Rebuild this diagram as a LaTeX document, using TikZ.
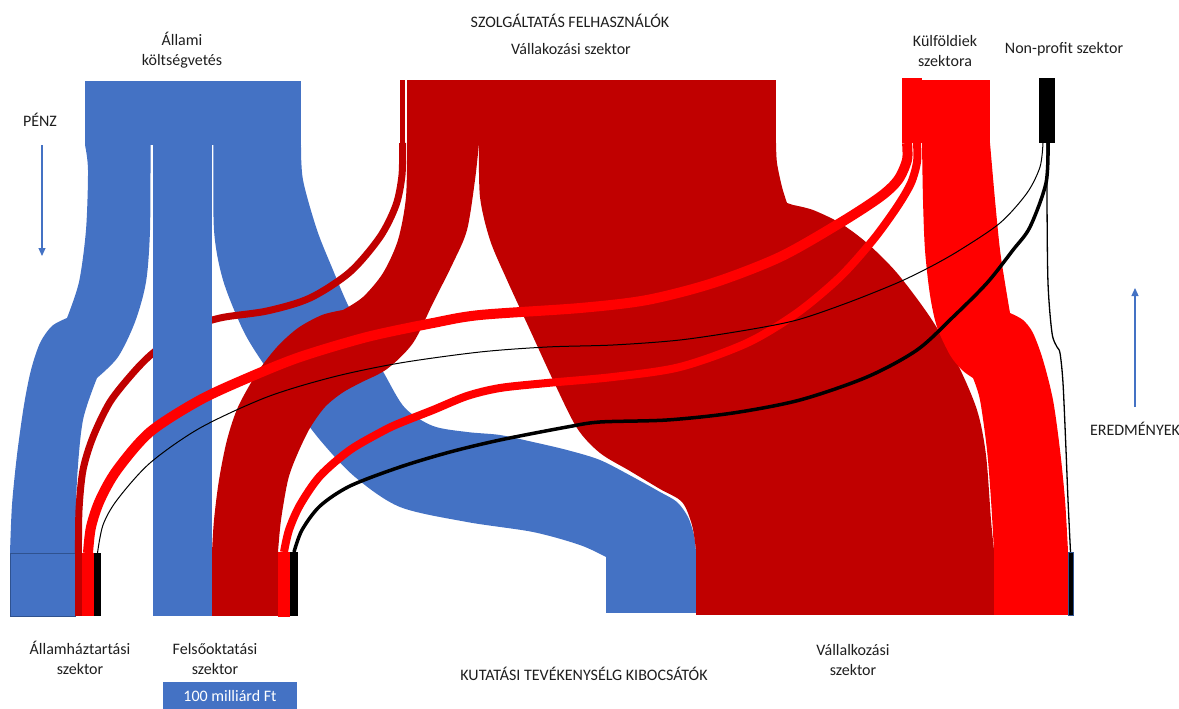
\documentclass[tikz,border=0pt]{standalone}
\usepackage{fontspec}
\setmainfont{Carlito}
\usetikzlibrary{arrows.meta,calc}
\pgfdeclarelayer{flows}
\pgfsetlayers{flows,main}
\definecolor{cblue}{HTML}{4472C4}
\definecolor{cdark}{HTML}{C00000}
\definecolor{cred}{HTML}{FF0000}
\definecolor{cedge}{HTML}{2F528F}
\definecolor{ctext}{HTML}{1E1E1E}
\begin{document}
\begin{tikzpicture}[x=1pt,y=-1pt,
  blk/.style={inner sep=0pt, outer sep=0pt, anchor=north west, draw=none},
  lbl/.style={font=\fontsize{16}{20.5}\selectfont, text=ctext, align=center, inner sep=0pt},
  dirarrow/.style={cblue, line width=1.2pt, -{Triangle[length=8pt,width=7pt]}}]
\useasboundingbox (0,0) rectangle (1179,709);

% ---------- source blocks (top) ----------
\node[blk, fill=cblue, minimum width=67pt, minimum height=64pt] (all1) at (85,81) {};
\node[blk, fill=cblue, minimum width=60pt, minimum height=64pt] (all2) at (152,81) {};
\node[blk, fill=cblue, minimum width=89pt, minimum height=64pt] (all3) at (212,81) {};
\node[blk, fill=cdark, minimum width=5pt, minimum height=63pt] (vts) at (400,80) {};
\node[blk, fill=cdark, minimum width=369pt, minimum height=63pt] (vt) at (407,80) {};
\node[blk, fill=cred, minimum width=20pt, minimum height=65pt] (kfs) at (902,78) {};
\node[blk, fill=cred, minimum width=68pt, minimum height=63pt] (kf) at (922,80) {};
\node[blk, fill=black, minimum width=16pt, minimum height=65pt] (np) at (1039,78) {};

% ---------- target blocks (bottom) ----------
\node[blk, fill=cblue, draw=cedge, line width=0.8pt, minimum width=65pt, minimum height=63pt] (ahb) at (10,553) {};
\node[blk, fill=cdark, minimum width=7pt, minimum height=63pt] (ahd) at (75,553) {};
\node[blk, fill=cred, minimum width=12pt, minimum height=63pt] (ahr) at (82,553) {};
\node[blk, fill=black, minimum width=7pt, minimum height=63pt] (ahk) at (94,553) {};

\node[blk, fill=cblue, minimum width=59pt, minimum height=64pt] (fob) at (153,552) {};
\node[blk, fill=cdark, minimum width=66pt, minimum height=64pt] (fod) at (212,552) {};
\node[blk, fill=cred, minimum width=12pt, minimum height=65pt] (for) at (278,552) {};
\node[blk, fill=black, minimum width=8pt, minimum height=64pt] (fok) at (290,552) {};

\node[blk, fill=cblue, minimum width=90pt, minimum height=56pt] (vab) at (606,557) {};
\node[blk, fill=cdark, minimum width=298pt, minimum height=65pt] (vad) at (696,550) {};
\node[blk, fill=cred, minimum width=74pt, minimum height=64pt] (var) at (994,551) {};
\node[blk, fill=black, draw=cedge, line width=0.6pt, minimum width=5pt, minimum height=63pt] (vak) at (1068,552) {};

% split points on the source blocks
\coordinate (vtsplit) at (479,143);
\coordinate (kf1) at (907,143);
\coordinate (kf2) at (917,143);
\coordinate (np1) at (1043,143);
\coordinate (np2) at (1048,143);
\coordinate (np3) at (1047,143);

% ---------- flows ----------
\begin{pgfonlayer}{flows}
% state budget -> public sector
\fill[cblue] plot[smooth] coordinates {(all1.south west) (88,170) (86,230) (79,282) (67,318)}
  -- plot[smooth] coordinates {(67,318) (52,326) (40,343) (31,370) (24,405) (17,455) (12,505) (ahb.north west)}
  -- (ahb.north east)
  -- plot[smooth] coordinates {(ahb.north east) (77,480) (83,420) (97,378)}
  -- plot[smooth] coordinates {(97,378) (118,357) (135,322) (146,282) (150,230) (150.5,145)} -- cycle;

% state budget -> business sector
\fill[cblue] plot[smooth] coordinates {(213.5,145) (214,230) (223,280) (243,330) (263,363) (290,400) (320,440) (355,477) (400,507) (467,522) (533,532) (580,545) (vab.north west)}
  -- (vab.north east)
  -- plot[smooth] coordinates {(696,552) (694,535) (688,517) (677,502) (660,492) (633,477) (600,460) (567,450) (533,442) (500,435) (467,432) (433,426) (405,408) (385,375) (365,338) (347,303) (333,270) (317,230) (303,180) (all3.south east)} -- cycle;

% business -> public sector (thin)
\draw[cdark, line width=7pt] plot[smooth] coordinates {(vts.south) (402,175) (396,205) (380,237) (350,272) (310,298) (267,311) (220,318) (185,330) (153,353) (133,373) (110,402) (93,437) (83,470) (79,510) (ahd.north)};

% state budget -> higher education
\fill[cblue] (152.5,145) rectangle (fob.north east);

% business -> higher education
\fill[cdark] plot[smooth] coordinates {(vt.south west) (406,197) (398,240) (383,273) (363,297) (343,310)}
  -- plot[smooth] coordinates {(343,310) (322,315) (298,328) (277,347) (257,373) (238,407) (227,440) (219,480) (214,520) (fod.north west)}
  -- (fod.north east)
  -- plot[smooth] coordinates {(fod.north east) (281,520) (288,480) (297,455) (310,428) (325,407) (342,393) (360,383) (387,369) (413,343) (433,303) (453,263) (467,230) (475,180) (vtsplit)} -- cycle;

% business -> business
\fill[cdark] plot[smooth] coordinates {(vtsplit) (480,197) (490,240) (507,280) (530,330) (553,380) (577,428) (600,453) (630,471) (660,489) (682,502) (692,525) (vad.north west)}
  -- (vad.north east)
  -- plot[smooth] coordinates {(vad.north east) (991,520) (986,455) (977,410) (957,363) (930,317) (897,273) (867,243) (840,223) (813,210) (793,205)}
  -- plot[smooth] coordinates {(787,203) (782,187) (777,163) (vt.south east)} -- cycle;

% foreign -> business
\fill[cred] plot[smooth] coordinates {(kf.south west) (923,200) (925,250) (930,295) (937,327) (950,355) (962,370) (973,378)}
  -- plot[smooth] coordinates {(973,378) (980,400) (987,450) (991,500) (var.north west)}
  -- (var.north east)
  -- plot[smooth] coordinates {(var.north east) (1065,500) (1060,450) (1053,400) (1043,360) (1033,333) (1023,320) (1010,313)}
  -- plot[smooth] coordinates {(1010,313) (1005,283) (1000,250) (995,200) (kf.south east)} -- cycle;

% foreign -> public sector
\draw[cred, line width=10pt] plot[smooth] coordinates {(kf1) (907,160) (898,180) (880,197) (840,223) (780,257) (713,283) (647,300) (580,308) (480,315) (433,323) (367,337) (300,357) (250,377) (200,400) (150,432) (117,470) (100,500) (91,527) (ahr.north)};

% foreign -> higher education
\draw[cred, line width=8pt] plot[smooth] coordinates {(kf2) (917,162) (911,183) (897,207) (873,240) (840,277) (797,313) (747,343) (680,367) (613,377) (547,383) (500,388) (467,396) (433,410) (400,423) (383,431) (350,450) (320,476) (300,505) (289,530) (for.north)};

% non-profit flows
\draw[black, line width=1pt] plot[smooth] coordinates {(np1) (1040,167) (1027,193) (1000,223) (960,250) (930,267) (897,283) (847,303) (797,320) (747,330) (680,340) (613,345) (547,347) (480,352) (400,363) (333,377) (267,397) (200,428) (150,463) (117,500) (103,525) (ahk.north)};
\draw[black, line width=3.5pt] plot[smooth] coordinates {(np2) (1046,183) (1030,227) (1013,250) (987,283) (953,317) (917,350) (867,377) (800,400) (733,413) (667,420) (600,422) (567,427) (500,440) (450,452) (400,467) (350,486) (320,506) (302,530) (fok.north)};
\draw[black, line width=1.3pt] plot[smooth] coordinates {(np3) (1047,200) (1048,283) (1052,333) (1057,347) (1060,353) (1063,383) (1066,450) (1068,500) (vak.north)};
\end{pgfonlayer}

% ---------- labels ----------
\node[lbl] (tall) at (182,50) {Állami\\költségvetés};
\node[lbl] (tszolg) at (570,21) {SZOLGÁLTATÁS FELHASZNÁLÓK};
\node[lbl] (tvt) at (571,49) {Vállakozási szektor};
\node[lbl] (tkf) at (945,51) {Külföldiek\\szektora};
\node[lbl] (tnp) at (1064,49) {Non-profit szektor};
\node[lbl] (tpenz) at (40,120) {PÉNZ};
\node[lbl] (tered) at (1135,429) {EREDMÉNYEK};
\node[lbl] (tah) at (80,658) {Államháztartási\\szektor};
\node[lbl] (tfo) at (215,659) {Felsőoktatási\\szektor};
\node[lbl] (tkut) at (584,674) {KUTATÁSI TEVÉKENYSÉLG KIBOCSÁTÓK};
\node[lbl] (tva) at (853,660) {Vállalkozási\\szektor};
\node[blk, fill=cblue, minimum width=134pt, minimum height=27pt] (scale) at (163,682) {};
\node[lbl, text=white] (tscale) at (scale.center) {100 milliárd Ft};

% direction arrows
\coordinate (penz-a) at (42,145);
\coordinate (penz-b) at (42,256);
\coordinate (ered-a) at (1135,407);
\coordinate (ered-b) at (1135,288);
\draw[dirarrow] (penz-a) -- (penz-b);
\draw[dirarrow] (ered-a) -- (ered-b);
\end{tikzpicture}
\end{document}
